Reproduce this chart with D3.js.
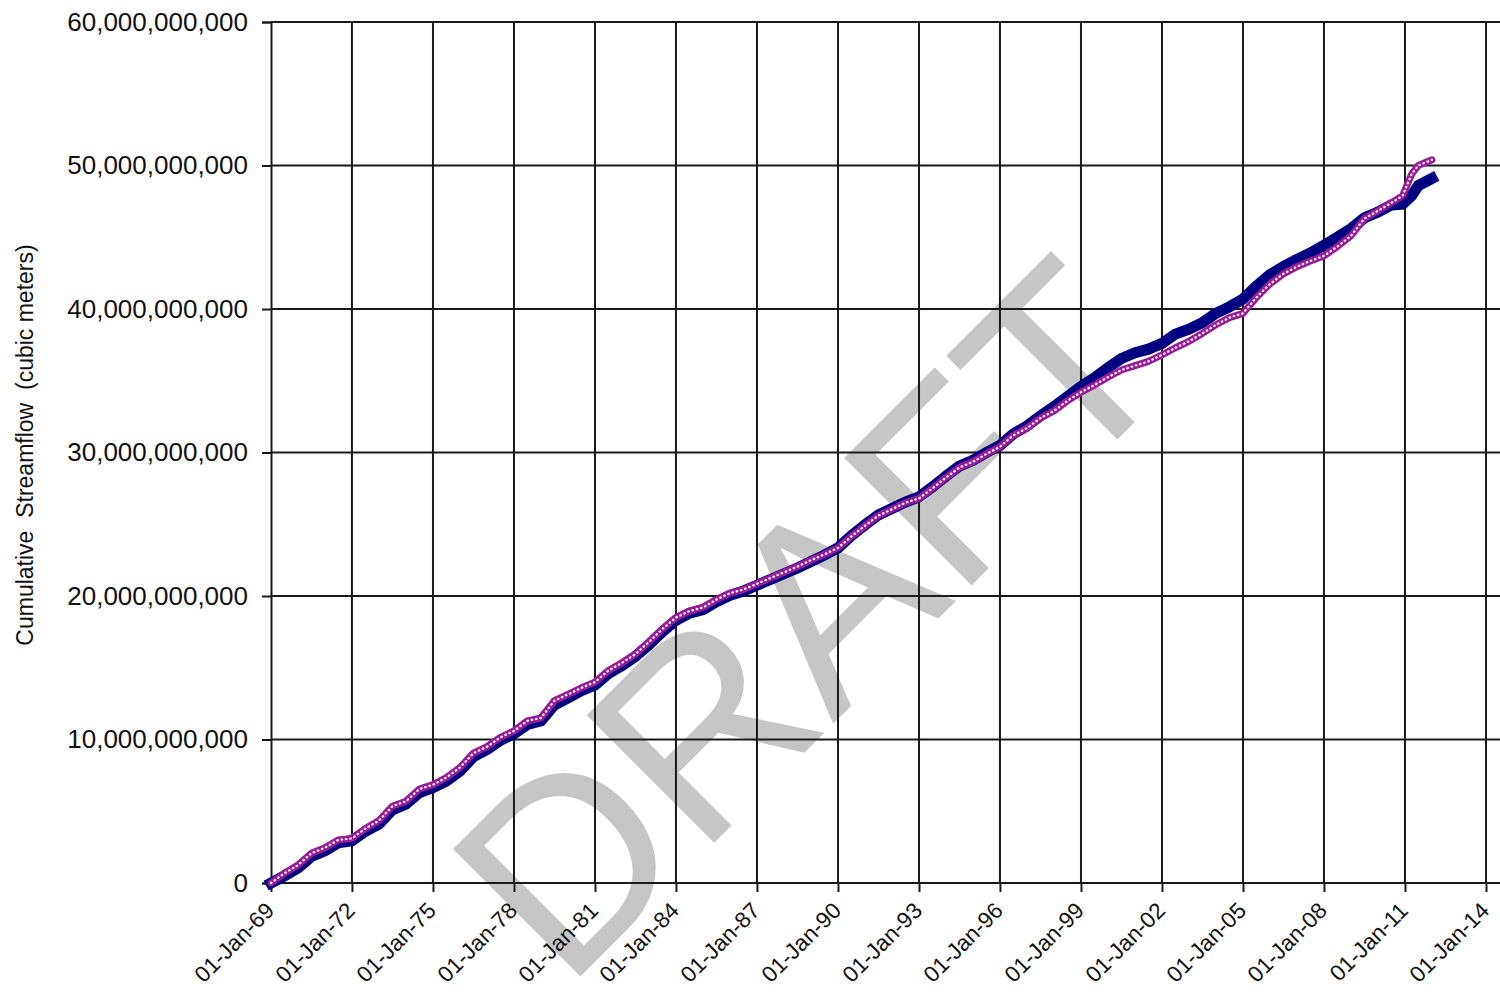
<!DOCTYPE html>
<html>
<head>
<meta charset="utf-8">
<script src="https://cdn.jsdelivr.net/npm/d3@7"></script>
<style>
  html, body { margin: 0; padding: 0; background: #fff; }
  svg { display: block; }
  text { font-family: "Liberation Sans", Arial, sans-serif; fill: #111; }
</style>
</head>
<body>
<script>
// ---------------- DATA ----------------
const dates = [
  "1969-01-01","1969-07-01","1970-01-01","1970-07-01","1971-01-01","1971-07-01","1972-01-01","1972-07-01",
  "1973-01-01","1973-07-01","1974-01-01","1974-07-01","1975-01-01","1975-07-01","1976-01-01","1976-07-01",
  "1977-01-01","1977-07-01","1978-01-01","1978-07-01","1979-01-01","1979-07-01","1980-01-01","1980-07-01",
  "1981-01-01","1981-07-01","1982-01-01","1982-07-01","1983-01-01","1983-07-01","1984-01-01","1984-07-01",
  "1985-01-01","1985-07-01","1986-01-01","1986-07-01","1987-01-01","1987-07-01","1988-01-01","1988-07-01",
  "1989-01-01","1989-07-01","1990-01-01","1990-07-01","1991-01-01","1991-07-01","1992-01-01","1992-07-01",
  "1993-01-01","1993-07-01","1994-01-01","1994-07-01","1995-01-01","1995-07-01","1996-01-01","1996-07-01",
  "1997-01-01","1997-07-01","1998-01-01","1998-07-01","1999-01-01","1999-07-01","2000-01-01","2000-07-01",
  "2001-01-01","2001-07-01","2002-01-01","2002-07-01","2003-01-01","2003-07-01","2004-01-01","2004-07-01",
  "2005-01-01","2005-07-01","2006-01-01","2006-07-01","2007-01-01","2007-07-01","2008-01-01","2008-07-01",
  "2009-01-01","2009-07-01","2010-01-01","2010-07-01","2010-12-01","2011-04-01","2011-07-01","2012-01-01"
];

// Observed cumulative streamflow (navy), billions of cubic meters
const observedBillions = [
  0.00, 0.50, 1.05, 1.85, 2.25, 2.80, 2.95, 3.60,
  4.10, 5.10, 5.50, 6.30, 6.65, 7.10, 7.80, 8.80,
  9.30, 9.95, 10.40, 11.05, 11.30, 12.40, 12.90, 13.40,
  13.80, 14.60, 15.15, 15.80, 16.60, 17.50, 18.30, 18.80,
  19.05, 19.60, 20.05, 20.35, 20.75, 21.15, 21.55, 21.95,
  22.40, 22.85, 23.35, 24.20, 24.95, 25.65, 26.10, 26.55,
  26.90, 27.60, 28.35, 29.05, 29.45, 30.00, 30.50, 31.30,
  31.85, 32.55, 33.20, 33.90, 34.60, 35.20, 35.90, 36.55,
  36.95, 37.20, 37.60, 38.25, 38.60, 39.05, 39.70, 40.15,
  40.70, 41.60, 42.40, 42.95, 43.45, 43.90, 44.45, 45.00,
  45.60, 46.35, 46.75, 47.25, 47.30, 47.90, 48.60, 49.10
];

// Simulated cumulative streamflow (magenta), billions of cubic meters
const simulatedBillions = [
  0.00, 0.68, 1.25, 2.07, 2.46, 3.00, 3.11, 3.80,
  4.35, 5.35, 5.70, 6.55, 6.85, 7.35, 8.05, 9.05,
  9.50, 10.15, 10.60, 11.30, 11.50, 12.70, 13.15, 13.60,
  14.00, 14.80, 15.35, 15.95, 16.80, 17.70, 18.50, 18.95,
  19.20, 19.75, 20.20, 20.45, 20.85, 21.25, 21.65, 22.05,
  22.50, 22.90, 23.35, 24.15, 24.90, 25.60, 26.05, 26.50,
  26.80, 27.50, 28.25, 28.95, 29.35, 29.90, 30.40, 31.20,
  31.70, 32.40, 32.90, 33.60, 34.20, 34.70, 35.25, 35.75,
  36.05, 36.35, 36.80, 37.30, 37.75, 38.30, 38.90, 39.40,
  39.70, 40.80, 41.75, 42.45, 42.95, 43.35, 43.70, 44.35,
  45.10, 46.30, 46.85, 47.40, 47.90, 49.40, 50.00, 50.40
];

const yTickValues = [0, 10e9, 20e9, 30e9, 40e9, 50e9, 60e9];
const xTickYears = [1969,1972,1975,1978,1981,1984,1987,1990,1993,1996,1999,2002,2005,2008,2011,2014];
const yAxisTitle = "Cumulative  Streamflow  (cubic meters)";
const watermark = "DRAFT";

// ---------------- CHART ----------------
(function () {
const W = 1500, H = 993;
const mLeft = 271, mRight = 1486, mTop = 22, mBottom = 883, gridRight = 1500;

const parse = d3.timeParse("%Y-%m-%d");
const observed = dates.map((d, i) => ({ date: parse(d), value: observedBillions[i] * 1e9 }));
const simulated = dates.map((d, i) => ({ date: parse(d), value: simulatedBillions[i] * 1e9 }));
const xTicks = xTickYears.map(yr => new Date(yr, 0, 1));

const x = d3.scaleTime().domain([new Date(1969, 0, 1), new Date(2014, 0, 1)]).range([mLeft, mRight]);
const y = d3.scaleLinear().domain([0, 60e9]).range([mBottom, mTop]);

const svg = d3.select("body").append("svg").attr("width", W).attr("height", H);

// watermark (behind everything)
svg.append("text")
  .attr("transform", "translate(810,619) rotate(-45)")
  .attr("text-anchor", "middle")
  .attr("dominant-baseline", "central")
  .style("font-size", "262px")
  .style("fill", "#c6c6c6")
  .text(watermark);

// horizontal gridlines
svg.append("g").selectAll("line").data(yTickValues.slice(1)).join("line")
  .attr("x1", mLeft).attr("x2", gridRight)
  .attr("y1", d => y(d)).attr("y2", d => y(d))
  .attr("stroke", "#1a1a1a").attr("stroke-width", 2);

// vertical gridlines
svg.append("g").selectAll("line").data(xTicks.slice(1)).join("line")
  .attr("x1", d => x(d)).attr("x2", d => x(d))
  .attr("y1", mTop).attr("y2", mBottom)
  .attr("stroke", "#1a1a1a").attr("stroke-width", 2);

// y axis
const yAxis = d3.axisLeft(y).tickValues(yTickValues).tickSize(9).tickPadding(14)
  .tickFormat(d3.format(","));
const gy = svg.append("g").attr("transform", `translate(${mLeft},0)`).call(yAxis);
gy.select(".domain").attr("stroke", "#1a1a1a").attr("stroke-width", 2);
gy.selectAll(".tick line").attr("stroke", "#1a1a1a").attr("stroke-width", 2);
gy.selectAll(".tick text").style("font-size", "26px").attr("fill", "#111")
  .style("font-family", "'Liberation Sans', Arial, sans-serif");

// x axis
const xAxis = d3.axisBottom(x).tickValues(xTicks).tickSize(9).tickFormat(d3.timeFormat("%d-%b-%y"));
const gx = svg.append("g").attr("transform", `translate(0,${mBottom})`).call(xAxis);
gx.select(".domain").remove();
gx.append("line").attr("x1", mLeft).attr("x2", gridRight).attr("y1", 0).attr("y2", 0)
  .attr("stroke", "#1a1a1a").attr("stroke-width", 2);
gx.selectAll(".tick line").attr("stroke", "#1a1a1a").attr("stroke-width", 2);
gx.selectAll(".tick text")
  .style("font-size", "22.5px").attr("fill", "#111")
  .style("font-family", "'Liberation Sans', Arial, sans-serif")
  .attr("text-anchor", "end")
  .attr("dy", null).attr("y", null)
  .attr("transform", "translate(4,29) rotate(-45)");

// y axis title
svg.append("text")
  .attr("transform", "translate(33,445) rotate(-90)")
  .attr("text-anchor", "middle")
  .style("font-size", "23px")
  .style("white-space", "pre")
  .attr("xml:space", "preserve")
  .text(yAxisTitle);

// lines
const line = d3.line().x(d => x(d.date)).y(d => y(d.value));

svg.append("path").datum(observed)
  .attr("d", line).attr("fill", "none")
  .attr("stroke", "#000080").attr("stroke-width", 11)
  .attr("stroke-linejoin", "miter").attr("stroke-linecap", "square");

svg.append("path").datum(simulated)
  .attr("d", line).attr("fill", "none")
  .attr("stroke", "#9a1a9a").attr("stroke-width", 7)
  .attr("stroke-linejoin", "round").attr("stroke-linecap", "round");

svg.append("path").datum(simulated)
  .attr("d", line).attr("fill", "none")
  .attr("stroke", "#ffffff").attr("stroke-width", 2.2)
  .attr("stroke-dasharray", "0.6 3.8")
  .attr("stroke-linecap", "round");
})();
</script>
</body>
</html>
